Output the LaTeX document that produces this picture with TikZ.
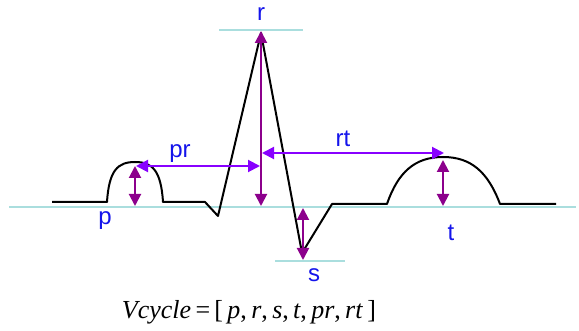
\documentclass[tikz,border=0pt]{standalone}
\usepackage{fontspec}
\setmainfont{Liberation Serif}
\setsansfont{Liberation Sans}
\usepackage{xcolor}
\usetikzlibrary{arrows.meta}
\definecolor{labelblue}{RGB}{20,20,235}
\definecolor{levelcyan}{RGB}{170,222,222}
\definecolor{ampline}{RGB}{140,0,140}
\definecolor{spanline}{RGB}{136,0,255}

\begin{document}
\begin{tikzpicture}[
      x=1pt,y=-1pt,
      lbl/.style={text=labelblue,font=\sffamily\fontsize{24}{24}\selectfont,inner sep=0pt},
      level/.style={draw=levelcyan,line width=1.5pt},
      trace/.style={draw=black,line width=2pt,line join=round},
      amp/.style={draw=ampline,line width=2pt,{Triangle[length=12pt,width=12pt]}-{Triangle[length=12pt,width=12pt]}},
      span/.style={draw=spanline,line width=2pt,{Triangle[length=12pt,width=12pt]}-{Triangle[length=12pt,width=12pt]}}]

    \useasboundingbox (0,0) rectangle (579,331);

    % reference levels
    \coordinate (b0) at (9,207);   \coordinate (b1) at (576,207);
    \coordinate (r0) at (219,30);  \coordinate (r1) at (303,30);
    \coordinate (s0) at (275,261); \coordinate (s1) at (345,261);
    \draw[level] (b0) -- (b1);
    \draw[level] (r0) -- (r1);
    \draw[level] (s0) -- (s1);

    % ecg trace
    \coordinate (start) at (52,202);
    \coordinate (pon) at (107,202);
    \coordinate (ptop) at (135,162);
    \coordinate (poff) at (163,202);
    \coordinate (qon) at (205,202);
    \coordinate (qlow) at (218,216);
    \coordinate (rtop) at (261,33);
    \coordinate (slow) at (302,253);
    \coordinate (soff) at (332,204);
    \coordinate (ton) at (387,204);
    \coordinate (ttop) at (443,157);
    \coordinate (toff) at (500,204);
    \coordinate (stop) at (556,204);
    \draw[trace] (start) -- (pon)
      .. controls (109,170) and (118,162) .. (ptop)
      .. controls (152,162) and (161,170) .. (poff)
      -- (qon) -- (qlow) -- (rtop) -- (slow) -- (soff) -- (ton)
      .. controls (398,172) and (415,157) .. (ttop)
      .. controls (471,157) and (488,172) .. (toff) -- (stop);

    % amplitudes
    \coordinate (pa0) at (135,166);  \coordinate (pa1) at (135,206);
    \coordinate (ra0) at (261,206);  \coordinate (ra1) at (261,31);
    \coordinate (sa0) at (303,208);  \coordinate (sa1) at (303,260);
    \coordinate (ta0) at (443,160);  \coordinate (ta1) at (443,206);
    \draw[amp] (pa0) -- (pa1);
    \draw[amp] (ra0) -- (ra1);
    \draw[amp] (sa0) -- (sa1);
    \draw[amp] (ta0) -- (ta1);

    % intervals
    \coordinate (pr0) at (136,166);  \coordinate (pr1) at (260,166);
    \coordinate (rt0) at (262,153);  \coordinate (rt1) at (444,153);
    \draw[span] (pr0) -- (pr1);
    \draw[span] (rt0) -- (rt1);

    \node[lbl] (rname) at (261,14) {r};
    \node[lbl] (prname) at (180,154) {pr};
    \node[lbl] (rtname) at (343,139) {rt};
    \node[lbl] (pname) at (105,221) {p};
    \node[lbl] (tname) at (451,233) {t};
    \node[lbl] (sname) at (314,275) {s};

    \node[font=\fontsize{26}{26}\selectfont,inner sep=0pt] (vec) at (249,312)
      {\textit{Vcycle}\,=\,[\,\textit{p},\,\textit{r},\,\textit{s},\,\textit{t},\,\textit{pr},\,\textit{rt}\,]};
  \end{tikzpicture}
\end{document}
